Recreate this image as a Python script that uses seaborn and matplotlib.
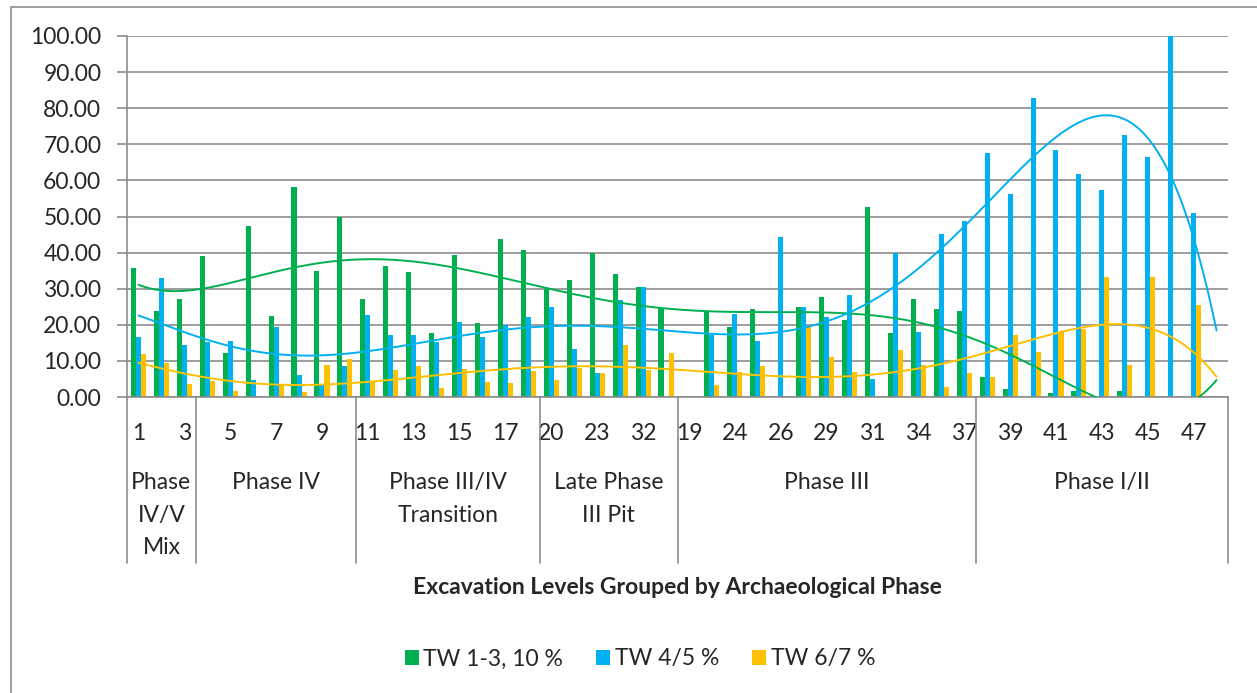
import numpy as np
import pandas as pd
import matplotlib
matplotlib.use('Agg')
import matplotlib.pyplot as plt
from matplotlib.patches import Rectangle
import seaborn as sns

# Niveles de excavación (solo se rotulan los impares en el eje)
levels = ['1', '2', '3',
          '4', '5', '6', '7', '8', '9', '10',
          '11', '12', '13', '14', '15', '16', '17', '18',
          '20', '21', '23', '28', '32', '35',
          '19', '22', '24', '25', '26', '27', '29', '30', '31', '33', '34', '36', '37',
          '38', '39', '40', '41', '42', '43', '44', '45', '46', '47', '48']

phases = ['Phase\nIV/V\nMix', 'Phase IV', 'Phase III/IV\nTransition',
          'Late Phase\nIII Pit', 'Phase III', 'Phase I/II']
phase_sizes = [3, 7, 8, 6, 13, 11]

series_names = ['TW 1-3, 10 %', 'TW 4/5 %', 'TW 6/7 %']
series_colors = ['#00B050', '#00B0F0', '#FFC000']

nan = np.nan
tw_1_3 = [35.6, 23.7, 27.1, 39.1, 12.1, 47.5, 22.4, 58.3, 34.9, 49.8,
          27.1, 36.4, 34.6, 17.8, 39.4, 20.6, 43.8, 40.6,
          30.0, 32.3, 39.9, 34.0, 30.6, 24.7,
          nan, 23.8, 19.4, 24.4, 0.0, 24.8, 27.6, 21.3, 52.5, 17.6, 27.1, 24.4, 23.7,
          5.6, 2.1, 0.0, 1.0, 1.6, 0.0, 1.6, 0.0, 0.0, 0.0, nan]
tw_4_5 = [16.5, 33.1, 14.4, 15.1, 15.6, 4.6, 19.3, 6.0, 3.7, 8.5,
          22.6, 17.2, 17.2, 15.3, 20.9, 16.5, 19.9, 22.1,
          24.9, 13.3, 6.6, 26.8, 30.6, 0.0,
          nan, 17.3, 23.0, 15.6, 44.3, 24.8, 22.1, 28.3, 5.1, 39.9, 18.0, 45.1, 48.7,
          67.5, 56.2, 82.9, 68.5, 61.9, 57.4, 72.6, 66.6, 100.0, 51.0, nan]
tw_6_7 = [11.9, 9.4, 3.5, 4.4, 1.6, 0.0, 3.4, 1.4, 8.9, 10.6,
          4.4, 7.5, 8.5, 2.4, 7.7, 4.1, 3.9, 7.2,
          4.8, 8.0, 6.6, 14.4, 7.5, 12.3,
          nan, 3.2, 6.9, 8.5, 0.0, 19.4, 11.0, 6.9, 0.0, 13.1, 8.9, 2.7, 6.6,
          5.6, 17.1, 12.6, 18.0, 18.8, 33.2, 8.9, 33.2, 0.0, 25.5, nan]

# DataFrame en formato largo para seaborn
df = pd.DataFrame({'level': levels, series_names[0]: tw_1_3,
                   series_names[1]: tw_4_5, series_names[2]: tw_6_7})
long_df = df.melt(id_vars='level', var_name='series', value_name='value')

sns.set_style('white')
plt.rcParams['font.family'] = ['Lato', 'DejaVu Sans']
FS = 16.5
GRAY = '#8c8c8c'

fig = plt.figure(figsize=(12.57, 6.93), dpi=100)
ax = fig.add_axes([127 / 1257, 1 - 397 / 693, (1228 - 127) / 1257, (397 - 36) / 693])

sns.barplot(data=long_df, x='level', y='value', hue='series', order=levels,
            hue_order=series_names, palette=series_colors, saturation=1,
            width=0.66, errorbar=None, linewidth=0, ax=ax, zorder=2)

# Líneas de tendencia polinómicas (orden 6), como en Excel (celdas vacías = 0)
x_idx = np.arange(len(levels))
x_fine = np.linspace(0, len(levels) - 1, 400)
for vals, col in zip([tw_1_3, tw_4_5, tw_6_7], series_colors):
    v = np.nan_to_num(np.array(vals))
    poly = np.polynomial.Polynomial.fit(x_idx, v, 6)
    ax.plot(x_fine, poly(x_fine), color=col, lw=1.4, zorder=3)

ax.set_xlim(-0.5, len(levels) - 0.5)
ax.set_ylim(0, 100)
ax.set_yticks(np.arange(0, 101, 10))
ax.yaxis.set_major_formatter(matplotlib.ticker.FormatStrFormatter('%.2f'))
ax.grid(axis='y', color=GRAY, lw=1.2)
ax.set_axisbelow(True)

ax.set_xticks(x_idx)
ax.set_xticklabels([lab if i % 2 == 0 else '' for i, lab in enumerate(levels)])
ax.set_xticks(np.arange(-0.5, len(levels), 1), minor=True)
ax.tick_params(axis='x', which='major', length=0, pad=19, labelsize=FS)
ax.tick_params(axis='x', which='minor', length=37, width=1.2, color=GRAY, direction='out')
ax.tick_params(axis='y', which='major', length=7, width=1.2, color=GRAY, pad=11.5,
               labelsize=FS, left=True)
ax.set_xlabel('')
ax.set_ylabel('')
for s in ['top', 'right']:
    ax.spines[s].set_visible(False)
for s in ['left', 'bottom']:
    ax.spines[s].set_color(GRAY)
    ax.spines[s].set_linewidth(1.2)

# Separadores y nombres de fase bajo el eje
trans = ax.get_xaxis_transform()
edges = np.concatenate([[0], np.cumsum(phase_sizes)]) - 0.5
for e in edges:
    ax.plot([e, e], [0, -(563 - 397) / 361], transform=trans, color=GRAY,
            lw=1.2, clip_on=False, zorder=1)
for name, lo, hi in zip(phases, edges[:-1], edges[1:]):
    ax.text((lo + hi) / 2, -(472 - 397) / 361, name, transform=trans,
            ha='center', va='top', fontsize=FS, linespacing=1.68)

fig.text(677.5 / 1257, 1 - 587 / 693, 'Excavation Levels Grouped by Archaeological Phase',
         ha='center', va='center', fontsize=FS, fontweight='bold')

sns.move_legend(ax, 'center', bbox_to_anchor=(640 / 1257, 1 - 659 / 693),
                bbox_transform=fig.transFigure, ncol=3, frameon=False, title=None,
                fontsize=FS, handlelength=0.6, handleheight=0.6,
                handletextpad=0.2, columnspacing=1.45)

# Borde exterior del gráfico
fig.patches.append(Rectangle((11 / 1257, -0.05), 1.2, 1.05 - 7 / 693,
                             transform=fig.transFigure, fill=False,
                             edgecolor=GRAY, lw=1.2))

fig.savefig('out.png', dpi=100)
